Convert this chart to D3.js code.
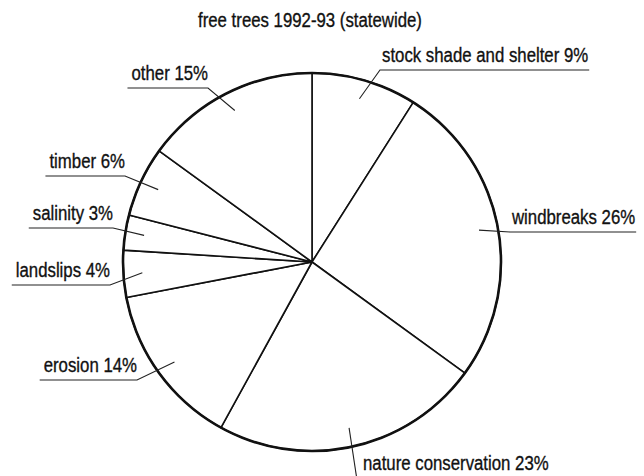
<!DOCTYPE html>
<html>
<head>
<meta charset="utf-8">
<script src="https://cdn.jsdelivr.net/npm/d3@7"></script>
<style>
  html, body { margin: 0; padding: 0; background: #fff; }
  svg { display: block; }
  text { font-family: "Liberation Sans", Arial, sans-serif; fill: #111; stroke: #111; stroke-width: 0.35; }
</style>
</head>
<body>
<svg id="chart" width="644" height="476"></svg>
<script>
// Free trees distributed in 1992-93, share by purpose (clockwise from 12 o'clock)
const categories = ["stock shade and shelter", "windbreaks", "nature conservation", "erosion",
                    "landslips", "salinity", "timber", "other"];
const shares = [9, 26, 23, 14, 4, 3, 6, 15];
const title = "free trees 1992-93 (statewide)";

// Where each label's leader line bends, and which way its text runs from there
const labelLayout = [
  { x: 380, y: 70,  side: "right" },
  { x: 510, y: 232, side: "right" },
  { x: 357, y: 480, side: "below" },
  { x: 137, y: 380, side: "left" },
  { x: 110, y: 285, side: "left" },
  { x: 113, y: 228, side: "left" },
  { x: 125, y: 176, side: "left" },
  { x: 208, y: 88,  side: "left" }
];

const width = 644, height = 476;
const cx = 312, cy = 262, radius = 189;
const fontSize = 21;
const squeeze = 0.8;   // horizontal condensing of the lettering

const svg = d3.select("#chart");

// Text drawn at (x, y) and condensed horizontally around that point
function addText(parent, x, y, str, anchor) {
  const t = parent.append("text")
    .attr("transform", `translate(${x},${y}) scale(${squeeze},1)`)
    .attr("text-anchor", anchor)
    .attr("font-size", fontSize)
    .text(str);
  return t.node().getComputedTextLength() * squeeze;
}

addText(svg, 310, 27, title, "middle");

const pie = d3.pie().sort(null).value(d => d);
const arcs = pie(shares);
const arc = d3.arc().innerRadius(0).outerRadius(radius);
const leaderArc = d3.arc().innerRadius(170).outerRadius(170);

const g = svg.append("g").attr("transform", `translate(${cx},${cy})`);

g.selectAll("path.slice")
  .data(arcs)
  .join("path")
  .attr("class", "slice")
  .attr("d", arc)
  .attr("fill", "#fff")
  .attr("stroke", "#111")
  .attr("stroke-width", 1.6)
  .attr("stroke-linejoin", "round");

g.append("circle")
  .attr("r", radius)
  .attr("fill", "none")
  .attr("stroke", "#111")
  .attr("stroke-width", 2.6);

// Labels with leader lines and underlines
const labels = svg.append("g");
arcs.forEach((d, i) => {
  const L = labelLayout[i];
  const [ix, iy] = leaderArc.centroid(d);
  const inner = [cx + ix, cy + iy];
  const str = `${categories[i]} ${shares[i]}%`;

  let pts;
  if (L.side === "right") {
    const w = addText(labels, L.x + 2, L.y - 8, str, "start");
    pts = [inner, [L.x, L.y], [L.x + w + 3, L.y]];
  } else if (L.side === "left") {
    const w = addText(labels, L.x, L.y - 8, str, "end");
    pts = [inner, [L.x, L.y], [L.x - w - 4, L.y]];
  } else {
    addText(labels, L.x + 6, 470, str, "start");
    pts = [inner, [L.x, L.y]];
  }
  labels.append("path")
    .attr("d", d3.line()(pts))
    .attr("fill", "none")
    .attr("stroke", "#222")
    .attr("stroke-width", 1.1);
});
</script>
</body>
</html>
